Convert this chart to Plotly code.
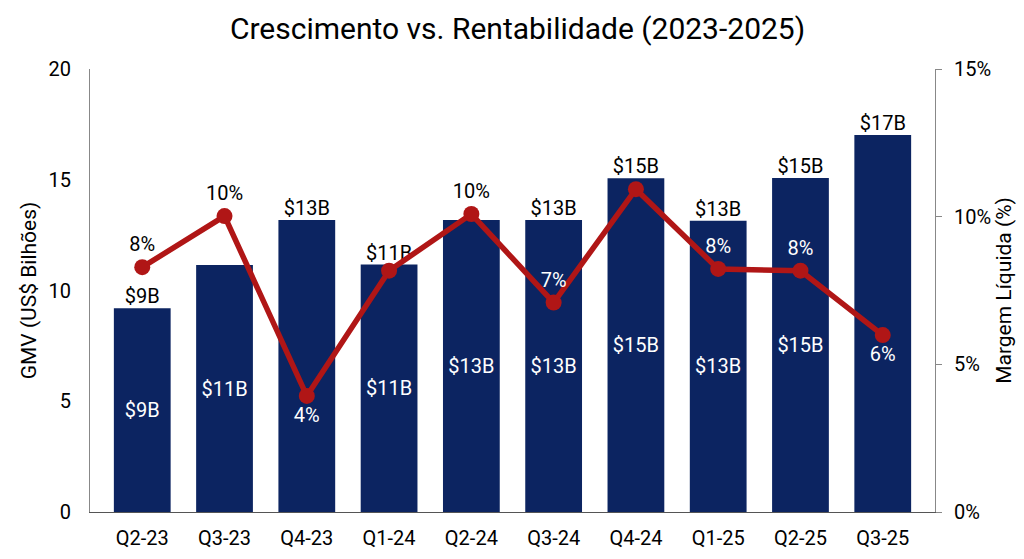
import plotly.graph_objects as go

quarters = ["Q2-23", "Q3-23", "Q4-23", "Q1-24", "Q2-24", "Q3-24", "Q4-24", "Q1-25", "Q2-25", "Q3-25"]
gmv = [9.2, 11.15, 13.18, 11.17, 13.18, 13.18, 15.07, 13.15, 15.08, 17.02]
gmv_inside_labels = ["$9B", "$11B", "", "$11B", "$13B", "$13B", "$15B", "$13B", "$15B", ""]
gmv_top_labels = ["$9B", "", "$13B", "$11B", "", "$13B", "$15B", "$13B", "$15B", "$17B"]
margin_pct = [8.29, 10.02, 3.93, 8.17, 10.09, 7.09, 10.93, 8.23, 8.17, 5.99]
margin_labels = ["8%", "10%", "4%", "", "10%", "7%", "", "8%", "8%", "6%"]
margin_label_pos = ["top center", "top center", "bottom center", "top center", "top center",
                    "top center", "top center", "top center", "top center", "bottom center"]
margin_label_colors = ["black", "black", "white", "black", "black", "white", "black", "white", "white", "white"]

NAVY = "#0c2461"
RED = "#b01616"
FONT = "Roboto"

fig = go.Figure()
fig.add_trace(go.Bar(
    x=quarters, y=gmv, marker=dict(color=NAVY, line=dict(width=0)),
    text=gmv_inside_labels, textposition="inside", insidetextanchor="middle", textangle=0,
    textfont=dict(color="white", size=20, family=FONT), hoverinfo="skip", showlegend=False,
))
fig.add_trace(go.Scatter(
    x=quarters, y=gmv, mode="text", text=gmv_top_labels, textposition="top center",
    textfont=dict(color="black", size=20, family=FONT), hoverinfo="skip", showlegend=False,
))
fig.add_trace(go.Scatter(
    x=quarters, y=margin_pct, yaxis="y2", mode="lines+markers+text",
    line=dict(color=RED, width=5.5), marker=dict(color=RED, size=16),
    text=margin_labels, textposition=margin_label_pos,
    textfont=dict(color=margin_label_colors, size=20, family=FONT),
    hoverinfo="skip", showlegend=False,
))

fig.update_layout(
    width=1008, height=551,
    margin=dict(l=82, r=81, t=61, b=47, autoexpand=False),
    paper_bgcolor="white", plot_bgcolor="white",
    font=dict(family=FONT, size=20, color="black"),
    title=dict(text="Crescimento vs. Rentabilidade (2023-2025)", x=0.5055, xanchor="center",
               y=1 - 20 / 551, yanchor="middle", font=dict(size=30, family=FONT, color="black")),
    bargap=0.31,
    xaxis=dict(showline=True, linecolor="#555555", linewidth=1, ticks="", showgrid=False,
               tickfont=dict(size=20), ticklabelstandoff=8, automargin=False),
    yaxis=dict(range=[0, 20], dtick=5, showgrid=False, showline=True, linecolor="#888888",
               linewidth=1, ticks="", zeroline=False, automargin=False,
               title=dict(text="GMV (US$ Bilhões)", font=dict(size=21), standoff=6),
               tickfont=dict(size=20), ticklabelstandoff=14),
    yaxis2=dict(range=[0, 15], dtick=5, overlaying="y", side="right", showgrid=False,
                showline=True, linecolor="#888888", linewidth=1, ticks="outside", ticklen=6,
                tickcolor="#888888", ticksuffix="%", zeroline=False, automargin=False,
                title=dict(text="Margem Líquida (%)", font=dict(size=21), standoff=10),
                tickfont=dict(size=20), ticklabelstandoff=8),
)

fig.write_html("out.html")
